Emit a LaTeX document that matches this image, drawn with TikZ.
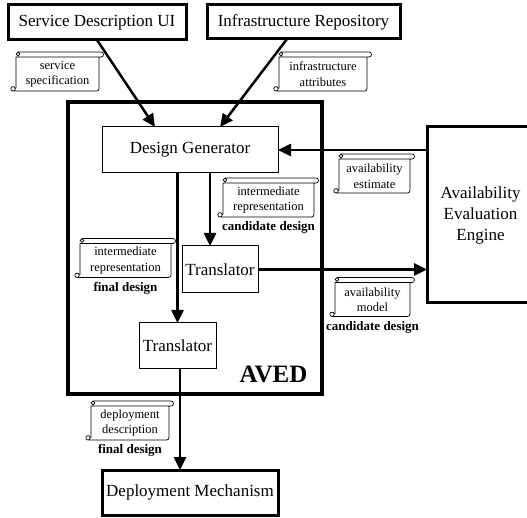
\documentclass[tikz,border=0pt]{standalone}
\usepackage{fontspec}
\setmainfont{Liberation Serif}
\usetikzlibrary{arrows.meta,calc,positioning}
\newcommand{\drawscroll}[1]{%
\draw [line width=0.7pt] let \p1=(#1.south west), \p2=(#1.north east) in
  (\x1,\y2) -- (\x1,\y1+2.5pt)
  (\x1-3pt,\y1+2.2pt) circle (2.2pt)
  (\x1+2pt,\y2+3pt) circle (1.8pt)
  (\x1,\y2) -- (\x2+2pt,\y2) arc (-90:90:2.5pt) -- (\x1+2pt,\y2+5pt)
  [rounded corners=2.5pt] (\x1-3pt,\y1) -- (\x2,\y1) -- (\x2,\y2);
}

\begin{document}
\begin{tikzpicture}[x=1pt,y=1pt,
  box/.style={draw, line width=1pt, inner sep=2pt, outer sep=0pt, font=\fontsize{17}{21}\selectfont},
  bigbox/.style={box, line width=3pt},
  outerbox/.style={draw, line width=4pt, outer sep=0pt},
  scroll/.style={inner sep=1pt, outer sep=0pt, minimum height=34pt, align=center, font=\fontsize{12.5}{15.5}\selectfont},
  tag/.style={inner sep=0pt, font=\fontsize{13}{15}\selectfont\bfseries},
  flow/.style={line width=2.5pt, -{Triangle[length=13pt,width=12pt]}}]
\useasboundingbox (0,0) rectangle (527,-518);
\clip (0,0) rectangle (527,-518);

\node[bigbox, minimum width=178pt, minimum height=35pt] (sdui) at (97,-22.5) {Service Description UI};
\node[bigbox, minimum width=193pt, minimum height=34pt] (infra) at (303.5,-22) {Infrastructure Repository};
\node[outerbox, minimum width=254pt, minimum height=292pt] (aved) at (195,-248) {};
\node[box, minimum width=176pt, minimum height=46pt] (gen) at (190,-150) {Design Generator};
\node[bigbox, minimum width=107pt, minimum height=176pt, align=center] (aee) at (480.5,-215) {Availability\\Evaluation\\Engine};
\node[box, minimum width=76pt, minimum height=47pt] (trA) at (220,-269.5) {Translator};
\node[box, minimum width=77pt, minimum height=45pt] (trB) at (177.5,-345.5) {Translator};
\node[bigbox, minimum width=176pt, minimum height=45pt] (deploy) at (190,-492.5) {Deployment Mechanism};
\node[anchor=base, inner sep=0pt, font=\fontsize{25}{30}\selectfont\bfseries] (avedname) at (273.5,-382) {AVED};

\node[scroll, minimum width=83pt] (spec) at (57.5,-74) {service\\specification};
\node[scroll, minimum width=88pt] (attr) at (323,-74) {infrastructure\\attributes};
\node[scroll, minimum width=71pt] (est) at (374.5,-176) {availability\\estimate};
\node[scroll, minimum width=91pt] (repC) at (268.5,-200) {intermediate\\representation};
\node[scroll, minimum width=91pt] (repF) at (125.5,-260.5) {intermediate\\representation};
\node[scroll, minimum width=75pt] (model) at (372.5,-299.5) {availability\\model};
\node[scroll, minimum width=78pt] (desc) at (130,-423) {deployment\\description};
\drawscroll{spec}
\drawscroll{attr}
\drawscroll{est}
\drawscroll{repC}
\drawscroll{repF}
\drawscroll{model}
\drawscroll{desc}

\node[tag, below=4.5pt of repC] (repCtag) {candidate design};
\node[tag, below=4.5pt of repF] (repFtag) {final design};
\node[tag, below=4.5pt of model] (modeltag) {candidate design};
\node[tag, below=4.5pt of desc] (desctag) {final design};

\draw[flow] (sdui.south) -- ([xshift=-35pt]gen.north);
\draw[flow] ([xshift=-16.5pt]infra.south) -- ([xshift=30pt]gen.north);
\draw[flow] (aee.west |- gen.east) -- (gen.east);
\draw[flow] ([xshift=20pt]gen.south) -- ([xshift=-10pt]trA.north);
\draw[flow] (trA.east) -- (trA.east -| aee.west);
\draw[flow] (trB.north |- gen.south) -- (trB.north);
\draw[flow] ([xshift=2.5pt]trB.south) -- ([xshift=2.5pt]trB.south |- deploy.north);
\end{tikzpicture}
\end{document}
